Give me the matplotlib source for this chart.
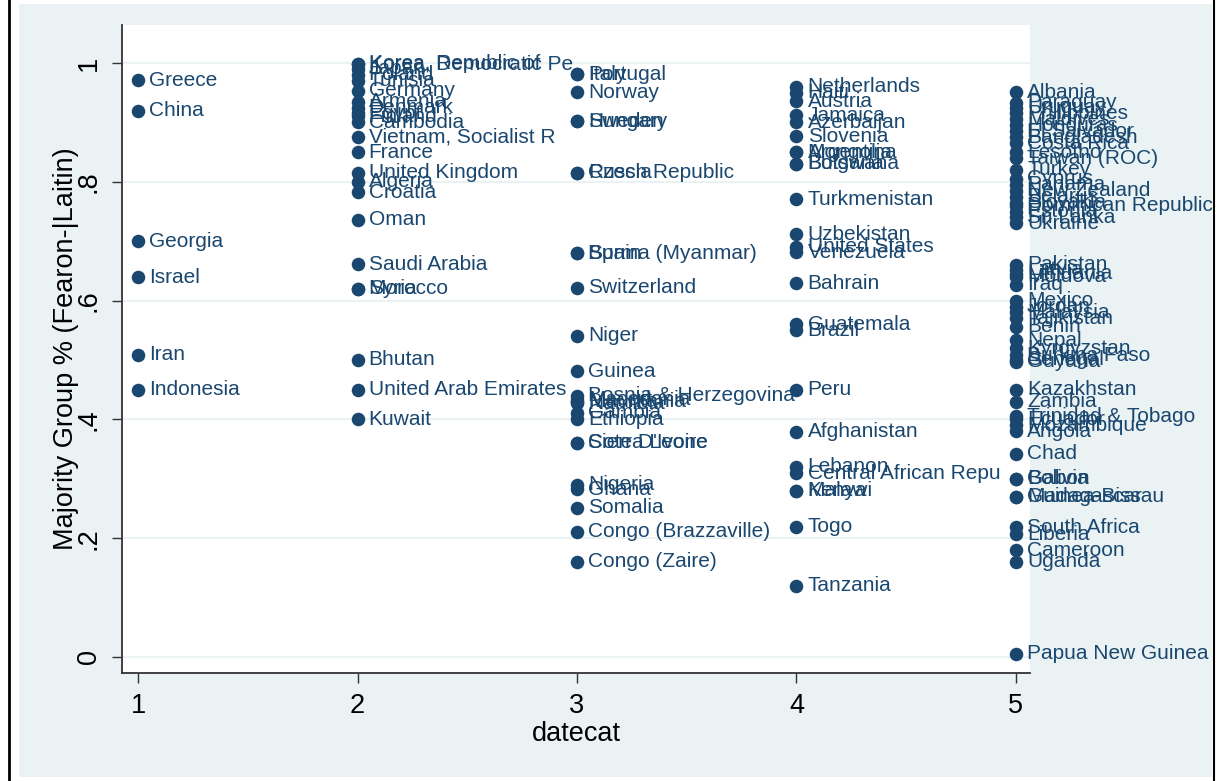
import numpy as np
import matplotlib.pyplot as plt
from matplotlib.patches import Rectangle
from matplotlib.lines import Line2D

plt.rcParams['font.family'] = ['Liberation Sans', 'DejaVu Sans']

navy = '#1a476f'
bg = '#eaf2f3'

# country, datecat, majority group share
countries = ['Greece', 'China', 'Georgia', 'Israel', 'Iran', 'Indonesia',
             'Korea, Republic of', 'Korea, Democratic Pe', 'Japan', 'Poland', 'Tunisia',
             'Germany', 'Armenia', 'Denmark', 'Egypt', 'Finland', 'Cambodia',
             'Vietnam, Socialist R', 'France', 'United Kingdom', 'Algeria', 'Croatia',
             'Oman', 'Saudi Arabia', 'Syria', 'Morocco', 'Bhutan', 'United Arab Emirates',
             'Kuwait',
             'Italy', 'Portugal', 'Norway', 'Sweden', 'Hungary', 'Czech Republic', 'Russia',
             'Spain', 'Burma (Myanmar)', 'Switzerland', 'Niger', 'Guinea',
             'Bosnia & Herzegovina', 'Mauritania', 'Macedonia', 'Namibia', 'Gambia',
             'Ethiopia', 'Sierra Leone', "Cote D'Ivoire", 'Nigeria', 'Ghana', 'Somalia',
             'Congo (Brazzaville)', 'Congo (Zaire)',
             'Netherlands', 'Haiti', 'Austria', 'Jamaica', 'Azerbaijan', 'Slovenia',
             'Mongolia', 'Argentina', 'Botswana', 'Bulgaria', 'Turkmenistan', 'Uzbekistan',
             'United States', 'Venezuela', 'Bahrain', 'Guatemala', 'Brazil', 'Peru',
             'Afghanistan', 'Lebanon', 'Central African Repu', 'Kenya', 'Malawi', 'Togo',
             'Tanzania',
             'Albania', 'Paraguay', 'Uruguay', 'Philippines', 'Maldives', 'Honduras',
             'El Salvador', 'Bangladesh', 'Costa Rica', 'Lesotho', 'Taiwan (ROC)',
             'Turkey', 'Cyprus', 'Panama', 'New Zealand', 'Belarus', 'Slovakia',
             'Dominican Republic', 'Estonia', 'Sri Lanka', 'Ukraine',
             'Pakistan', 'Latvia', 'Lithuania', 'Moldova', 'Iraq', 'Mexico', 'Jordan',
             'Malaysia', 'Tajikistan', 'Benin', 'Nepal', 'Kyrgyzstan', 'Burkina Faso',
             'Senegal', 'Guyana', 'Kazakhstan', 'Zambia', 'Trinidad & Tobago', 'Ecuador',
             'Mozambique', 'Angola', 'Chad', 'Bolivia', 'Gabon', 'Guinea-Bissau',
             'Madagascar', 'South Africa', 'Liberia', 'Cameroon', 'Uganda',
             'Papua New Guinea']

datecat = [1] * 6 + [2] * 23 + [3] * 25 + [4] * 25 + [5] * 52

plmaj = [0.971, 0.92, 0.70, 0.639, 0.509, 0.45,
         0.999, 0.999, 0.99, 0.98, 0.97, 0.953, 0.935, 0.925, 0.915, 0.91, 0.90,
         0.876, 0.85, 0.815, 0.80, 0.782, 0.736, 0.661, 0.62, 0.62, 0.50, 0.45, 0.40,
         0.981, 0.981, 0.951, 0.902, 0.902, 0.815, 0.815, 0.68, 0.68, 0.622, 0.541,
         0.481, 0.44, 0.43, 0.433, 0.427, 0.411, 0.40, 0.361, 0.361, 0.29, 0.282,
         0.251, 0.211, 0.16,
         0.96, 0.95, 0.936, 0.912, 0.90, 0.877, 0.85, 0.85, 0.83, 0.83, 0.771, 0.712,
         0.691, 0.681, 0.629, 0.56, 0.55, 0.45, 0.379, 0.32, 0.309, 0.28, 0.28, 0.219,
         0.12,
         0.951, 0.933, 0.925, 0.915, 0.905, 0.895, 0.885, 0.875, 0.865, 0.85, 0.84,
         0.82, 0.805, 0.795, 0.785, 0.775, 0.765, 0.76, 0.75, 0.74, 0.73,
         0.66, 0.652, 0.645, 0.64, 0.627, 0.60, 0.59, 0.58, 0.57, 0.556, 0.533, 0.52,
         0.508, 0.50, 0.497, 0.45, 0.43, 0.405, 0.40, 0.39, 0.38, 0.342, 0.30, 0.30,
         0.27, 0.27, 0.218, 0.207, 0.18, 0.16, 0.005]

xticks = [1, 2, 3, 4, 5]
yticks = [0, 0.2, 0.4, 0.6, 0.8, 1.0]
ytick_labels = ['0', '.2', '.4', '.6', '.8', '1']

W, H = 1219, 781
fig = plt.figure(figsize=(W / 100, H / 100), dpi=100, facecolor='white')

# graph region background and outer frame lines
fig.patches.append(Rectangle((19 / W, 1 - 777 / H), (1212 - 19) / W, (777 - 4) / H,
                             transform=fig.transFigure, facecolor=bg,
                             edgecolor='none', zorder=-10))
fig.lines.append(Line2D([9 / W, 9 / W], [0, 1], transform=fig.transFigure,
                        color='black', linewidth=2, zorder=-5))
fig.lines.append(Line2D([1214 / W, 1214 / W], [0, 1], transform=fig.transFigure,
                        color='black', linewidth=1.5, zorder=-5))

ax = fig.add_axes([122 / W, 1 - 673 / H, (1030 - 122) / W, (673 - 25) / H])
ax.set_zorder(1)
ax.set_facecolor('white')

ax.scatter(datecat, plmaj, s=95, color=navy, zorder=3, clip_on=False, linewidths=0)
for name, x, y in zip(countries, datecat, plmaj):
    ax.annotate(name, (x, y), xytext=(8, 0), textcoords='offset points',
                va='center', ha='left', fontsize=15, color=navy, zorder=4,
                annotation_clip=False)

ax.set_xlim(0.927, 5.064)
ax.set_ylim(-0.027, 1.064)
ax.set_xticks(xticks)
ax.set_yticks(yticks)
ax.set_yticklabels(ytick_labels, rotation=90, va='center')
ax.grid(axis='y', color=bg, linewidth=1.5, zorder=0)
ax.tick_params(axis='both', labelsize=19.5, length=7.5, color='#333333', width=1)
ax.tick_params(axis='x', pad=7)
ax.tick_params(axis='y', pad=7)

for side in ['top', 'right']:
    ax.spines[side].set_visible(False)
for side in ['left', 'bottom']:
    ax.spines[side].set_color('#333333')
    ax.spines[side].set_linewidth(1.3)

ax.set_xlabel('datecat', fontsize=19.5, labelpad=1)
ax.set_ylabel('Majority Group % (Fearon-|Laitin)', fontsize=19.5, labelpad=-2)

fig.savefig('out.png', dpi=100, facecolor='white')
